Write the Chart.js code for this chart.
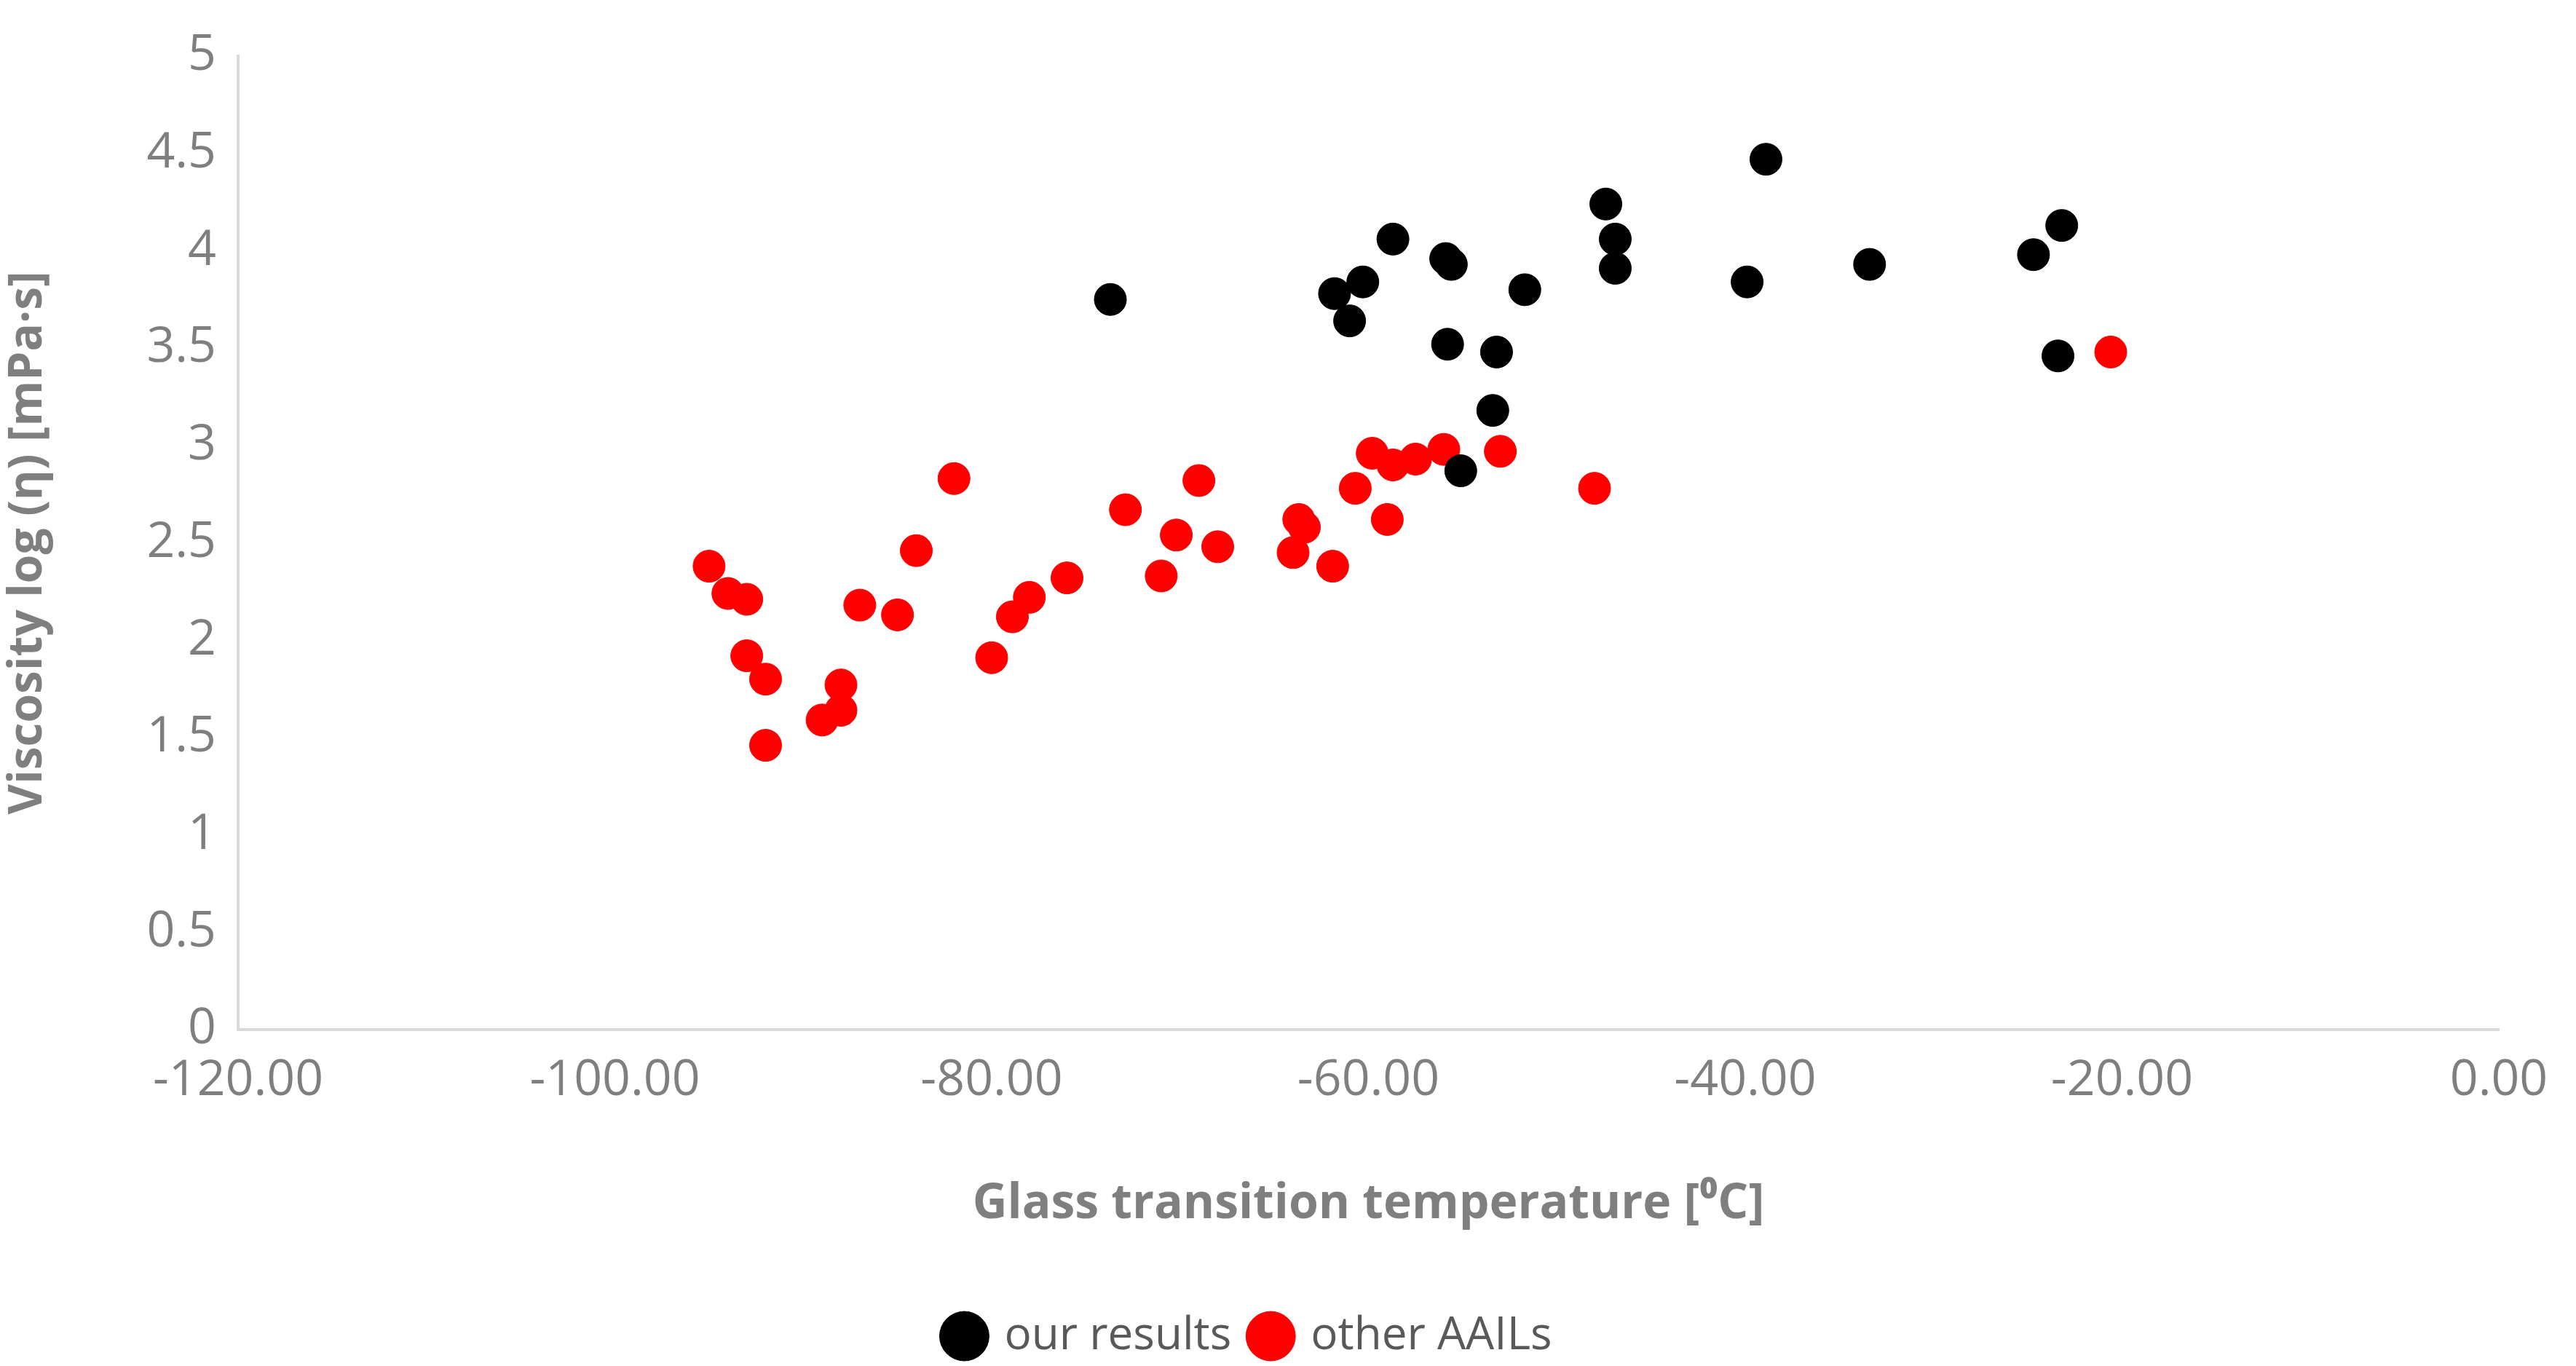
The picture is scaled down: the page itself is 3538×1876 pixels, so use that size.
<!DOCTYPE html>
<html>
<head>
<meta charset="utf-8">
<script src="https://cdn.jsdelivr.net/npm/chart.js@4/dist/chart.umd.min.js"></script>
<style>
  html, body { margin: 0; padding: 0; background: #fff; }
  #wrap { width: 3538px; height: 1876px; }
</style>
</head>
<body>
<div id="wrap"><canvas id="c"></canvas></div>
<script>
const ourTg = [-73.7, -61.8, -60.3, -61.0, -58.7, -55.9, -55.6, -55.8, -53.2, -53.4, -55.1, -51.7, -47.4, -46.9, -46.9, -39.9, -38.9, -33.4, -24.7, -23.2, -23.4];
const ourVisc = [3.75, 3.78, 3.84, 3.64, 4.06, 3.96, 3.93, 3.52, 3.48, 3.18, 2.87, 3.80, 4.24, 4.06, 3.91, 3.84, 4.47, 3.93, 3.98, 4.13, 3.46];
const otherTg = [-95.0, -94.0, -93.0, -93.0, -92.0, -92.0, -89.0, -88.0, -88.0, -87.0, -85.0, -84.0, -82.0, -80.0, -78.9, -78.0, -76.0, -72.9, -71.0, -70.2, -69.0, -68.0, -64.0, -63.7, -63.4, -61.9, -60.7, -59.8, -59.0, -58.7, -57.5, -56.0, -53.0, -48.0, -20.6];
const otherVisc = [2.38, 2.24, 2.21, 1.92, 1.80, 1.46, 1.59, 1.64, 1.77, 2.18, 2.13, 2.46, 2.83, 1.91, 2.12, 2.22, 2.32, 2.67, 2.33, 2.54, 2.82, 2.48, 2.45, 2.62, 2.58, 2.38, 2.78, 2.96, 2.62, 2.90, 2.93, 2.98, 2.97, 2.78, 3.48];

const toPoints = (xs, ys) => xs.map((x, i) => ({ x: x, y: ys[i] }));

Chart.defaults.font.family = "'Open Sans', sans-serif";
Chart.defaults.color = '#7f7f7f';

new Chart(document.getElementById('c'), {
  type: 'scatter',
  data: {
    datasets: [
      {
        label: 'our results',
        data: toPoints(ourTg, ourVisc),
        backgroundColor: '#000000',
        borderColor: '#000000',
        pointRadius: 22,
        pointHoverRadius: 22
      },
      {
        label: 'other AAILs',
        data: toPoints(otherTg, otherVisc),
        backgroundColor: '#ff0000',
        borderColor: '#ff0000',
        pointRadius: 22,
        pointHoverRadius: 22
      }
    ]
  },
  options: {
    responsive: true,
    maintainAspectRatio: false,
    animation: false,
    layout: { padding: { top: 77, right: 106, left: 0, bottom: 0 } },
    plugins: {
      tooltip: { enabled: false },
      legend: {
        position: 'bottom',
        labels: {
          usePointStyle: true,
          pointStyle: 'circle',
          boxWidth: 48,
          boxHeight: 48,
          padding: 30,
          color: '#595959',
          font: { size: 62 }
        }
      }
    },
    scales: {
      x: {
        min: -120,
        max: 0,
        grid: { display: false, drawTicks: false },
        border: { color: '#d9d9d9', width: 4 },
        ticks: {
          stepSize: 20,
          padding: 30,
          color: '#7f7f7f',
          font: { size: 68 },
          callback: (v) => v.toFixed(2)
        },
        title: {
          display: true,
          text: 'Glass transition temperature [\u2070C]',
          color: '#7f7f7f',
          font: { size: 66, weight: 'bold' },
          padding: { top: 10, bottom: 80 }
        },
        afterFit: (scale) => { scale.height = 360; }
      },
      y: {
        min: 0,
        max: 5,
        grid: { display: false, drawTicks: false },
        border: { color: '#d9d9d9', width: 4 },
        ticks: {
          stepSize: 0.5,
          padding: 30,
          color: '#7f7f7f',
          font: { size: 68 },
          callback: (v) => String(Math.round(v * 10) / 10)
        },
        title: {
          display: true,
          text: 'Viscosity log (\u03b7) [mPa\u00b7s]',
          color: '#7f7f7f',
          font: { size: 64, weight: 'bold' },
          padding: { top: 0, bottom: 20 }
        },
        afterFit: (scale) => { scale.width = 327; }
      }
    }
  }
});
</script>
</body>
</html>
